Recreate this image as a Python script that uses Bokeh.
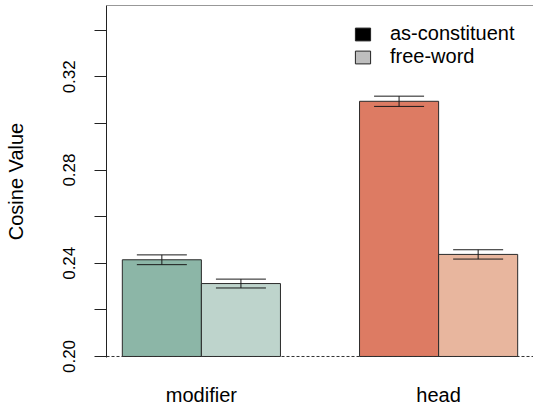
from bokeh.plotting import figure
from bokeh.models import (ColumnDataSource, Range1d, FixedTicker, Span, Whisker,
                          TeeHead, Legend, LegendItem)
from bokeh.embed import file_html
from bokeh.resources import INLINE

# ---- data ----
categories = ["modifier", "head"]
series = ["as-constituent", "free-word"]
as_constituent = [0.2415, 0.3095]
free_word = [0.2313, 0.2438]
as_constituent_se = [0.0021, 0.0022]
free_word_se = [0.0019, 0.0020]
colors_as = ["#8CB6A7", "#DD7B63"]
colors_free = ["#BED4CC", "#E8B69E"]
legend_colors = ["#000000", "#BEBEBE"]
y_ticks = [0.20, 0.22, 0.24, 0.26, 0.28, 0.30, 0.32, 0.34]
y_tick_labels = ["0.20", "", "0.24", "", "0.28", "", "0.32", ""]
baseline = 0.20

FONT = "Liberation Sans"
NAN = float("nan")

centers = [2 + 3 * i for i in range(len(categories))]

def make_source(vals, ses, colors, offset):
    return ColumnDataSource(dict(
        x=[c + offset for c in centers],
        top=vals,
        upper=[v + s for v, s in zip(vals, ses)],
        lower=[v - s for v, s in zip(vals, ses)],
        color=colors,
    ))

src_as = make_source(as_constituent, as_constituent_se, colors_as, -0.5)
src_free = make_source(free_word, free_word_se, colors_free, 0.5)

y_bottom = 0.19957
y_top = 0.3506
p = figure(width=533, height=408, x_range=Range1d(0.8, 6.2),
           y_range=Range1d(y_bottom, y_top),
           output_backend="svg", toolbar_location=None,
           min_border_left=106, min_border_right=0,
           min_border_top=5, min_border_bottom=50)
p.outline_line_color = None
p.xgrid.visible = False
p.ygrid.visible = False
p.background_fill_color = "white"
p.border_fill_color = "white"

for src in (src_as, src_free):
    p.vbar(x="x", top="top", bottom=baseline, width=1.0, fill_color="color",
           line_color="#2a2a2a", line_width=1, source=src)
    w = Whisker(base="x", upper="upper", lower="lower", source=src,
                level="annotation",
                line_color="#1a1a1a", line_width=1,
                upper_head=TeeHead(size=50, line_color="#1a1a1a", line_width=1),
                lower_head=TeeHead(size=50, line_color="#1a1a1a", line_width=1))
    p.add_layout(w)

p.add_layout(Span(location=baseline, dimension="width", line_color="#333333",
                  line_dash="3 2", line_width=1))
p.add_layout(Span(location=y_top, dimension="width", line_color="#333333",
                  line_width=1.2))

# y axis
ya = p.yaxis[0]
ya.ticker = FixedTicker(ticks=y_ticks)
ya.major_label_overrides = dict(zip(y_ticks, y_tick_labels))
ya.major_label_orientation = "vertical"
ya.major_tick_out = 12
ya.major_tick_in = 0
ya.minor_tick_line_color = None
ya.axis_line_color = "#222222"
ya.major_tick_line_color = "#222222"
ya.major_label_text_font = FONT
ya.major_label_text_font_size = "17px"
ya.major_label_text_color = "black"
ya.major_label_standoff = 19
ya.axis_label = "Cosine Value"
ya.axis_label_text_font = FONT
ya.axis_label_text_font_size = "20px"
ya.axis_label_text_font_style = "normal"
ya.axis_label_text_color = "black"
ya.axis_label_standoff = 34

# x axis
xa = p.xaxis[0]
xa.ticker = FixedTicker(ticks=centers)
xa.major_label_overrides = dict(zip(centers, categories))
xa.axis_line_color = None
xa.major_tick_line_color = None
xa.minor_tick_line_color = None
xa.major_tick_out = 0
xa.major_tick_in = 0
xa.major_label_standoff = 26
xa.major_label_text_font = FONT
xa.major_label_text_font_size = "20px"
xa.major_label_text_color = "black"

# legend
items = []
for name, col in zip(series, legend_colors):
    r = p.quad(left=[NAN], right=[NAN], top=[NAN], bottom=[NAN], fill_color=col,
               line_color="#222222", line_width=1)
    items.append(LegendItem(label=name, renderers=[r]))
leg = Legend(items=items, location=(247, 289), orientation="vertical",
             border_line_color=None, background_fill_alpha=0,
             padding=0, margin=0, spacing=0,
             glyph_width=19, glyph_height=16, label_standoff=18,
             label_text_font=FONT, label_text_font_size="20px",
             label_text_color="black", label_height=20)
p.add_layout(leg)

open("out.html", "w").write(file_html(p, INLINE))
